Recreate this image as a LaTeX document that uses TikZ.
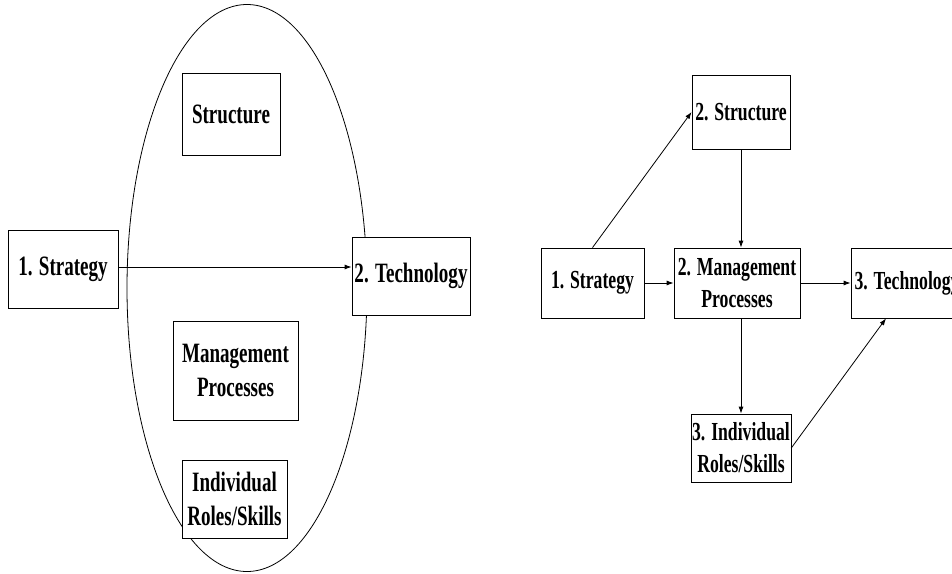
\documentclass[tikz,border=0pt]{standalone}
\usepackage{fontspec}
\setmainfont{Liberation Serif}[FakeStretch=0.68]
\usetikzlibrary{shapes.geometric, arrows.meta}

\begin{document}
\begin{tikzpicture}[x=1pt, y=-1pt, line width=0.8pt,
	box/.style={draw, fill=white, align=center, inner sep=1pt},
	bigtext/.style={font=\fontsize{28}{34}\selectfont\bfseries},
	smalltext/.style={font=\fontsize{26}{32}\selectfont\bfseries},
	link/.style={-{Latex[length=7pt, width=5pt]}}]

	\useasboundingbox (0, 0) rectangle (952, 573);

	% left: single arrow through the grouped elements
	\node (group) [draw, ellipse, minimum width=240pt, minimum height=567pt] at (247, 288) {};

	\node (strategyL) [box, bigtext, minimum width=110pt, minimum height=78pt] at (63, 269) {1. Strategy};
	\node (techL) [box, bigtext, minimum width=118pt, minimum height=78pt] at (411, 276) {2. Technology};
	\node (structL) [box, bigtext, minimum width=98pt, minimum height=82pt] at (231, 114) {Structure};
	\node (mgmtL) [box, bigtext, minimum width=125pt, minimum height=99pt] at (235.5, 370.5) {Management\\Processes};
	\node (indivL) [box, bigtext, minimum width=105pt, minimum height=78pt] at (234.5, 499) {Individual\\Roles/Skills};

	\draw[link] ([yshift=2pt]strategyL.east) -- ([yshift=2pt]strategyL.east -| techL.west);

	% right: stepwise chain
	\node (structR) [box, smalltext, minimum width=98pt, minimum height=74pt] at (741, 112) {2. Structure};
	\node (strategyR) [box, smalltext, minimum width=103pt, minimum height=70pt] at (592.5, 283) {1. Strategy};
	\node (mgmtR) [box, smalltext, minimum width=126pt, minimum height=70pt] at (737, 283) {2. Management\\Processes};
	\node (techR) [box, smalltext, minimum width=112pt, minimum height=70pt] at (907, 283) {3. Technology};
	\node (indivR) [box, smalltext, minimum width=98pt, minimum height=68pt] at (741, 448) {3. Individual\\Roles/Skills};

	\path[link]
	(strategyR.north) edge (structR.west)
	(structR.south) edge (structR.south |- mgmtR.north)
	(strategyR.east) edge (mgmtR.west)
	(mgmtR.east) edge (techR.west)
	(mgmtR.south -| structR.south) edge (indivR.north)
	(indivR.east) edge ([xshift=-21pt]techR.south);

\end{tikzpicture}
\end{document}
